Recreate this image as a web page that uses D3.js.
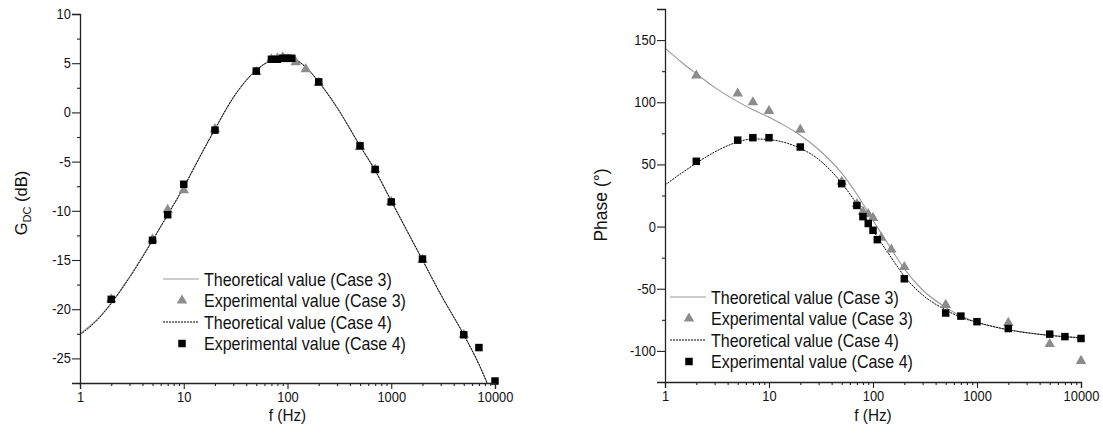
<!DOCTYPE html>
<html>
<head>
<meta charset="utf-8">
<script src="https://cdn.jsdelivr.net/npm/d3@7"></script>
<style>
  body { margin: 0; background: #fff; }
  svg text { font-family: "Liberation Sans", Arial, sans-serif; fill: #111; }
</style>
</head>
<body>
<div id="chart"></div>
<script>
// frequency ticks shared by both panels
var freqTicks = [1, 10, 100, 1000, 10000];
var gainTicks = [-25, -20, -15, -10, -5, 0, 5, 10];
var phaseTicks = [-100, -50, 0, 50, 100, 150];

// gain, theoretical curves
var gainThF = [1, 1.5, 2, 3, 5, 7, 10, 15, 20, 30, 50, 70, 90, 110, 150, 200, 300, 500, 700, 1000, 2000, 3000, 5000, 7000, 8400];
var gainTh3 = [-22.5, -20.9, -19.4, -16.7, -13.0, -10.4, -7.6, -4.1, -1.7, 1.5, 4.3, 5.3, 5.6, 5.5, 4.6, 3.1, 0.5, -3.4, -5.9, -9.0, -15.0, -18.5, -22.6, -25.6, -27.5];
var gainTh4 = [-22.6, -21.0, -19.4, -16.8, -13.0, -10.4, -7.6, -4.1, -1.7, 1.5, 4.3, 5.3, 5.6, 5.5, 4.6, 3.1, 0.5, -3.4, -5.9, -9.0, -15.0, -18.5, -22.6, -25.6, -27.5];

// gain, experimental
var gainExpF3 = [2, 5, 7, 10, 20, 50, 70, 80, 90, 100, 120, 150, 200, 500, 700, 1000, 2000, 5000];
var gainExp3 = [-19.0, -12.9, -9.9, -7.9, -1.7, 4.1, 5.4, 5.5, 5.6, 5.4, 5.1, 4.4, 3.0, -3.5, -5.8, -9.1, -15.0, -22.6];
var gainExpF4 = [2, 5, 7, 10, 20, 50, 70, 80, 90, 100, 110, 200, 500, 700, 1000, 2000, 5000, 7000, 10000];
var gainExp4 = [-19.0, -13.0, -10.4, -7.3, -1.8, 4.2, 5.4, 5.4, 5.5, 5.5, 5.5, 3.1, -3.4, -5.8, -9.1, -14.9, -22.6, -23.9, -27.3];

// phase, theoretical curves
var phaseThF = [1, 1.5, 2, 3, 5, 7, 10, 15, 20, 30, 50, 70, 100, 150, 200, 300, 500, 700, 1000, 2000, 5000, 10000];
var phaseTh3 = [143.5, 131, 123, 112, 100.5, 94, 88, 80, 73.5, 62, 43, 26, 5, -18, -34, -51, -65, -72, -77, -83, -87.5, -89.5];
var phaseTh4 = [33.5, 44, 51, 60, 68, 70.5, 70, 67, 63, 54, 35, 18, -3, -25, -40, -55, -67, -73, -77, -83, -87.5, -89.5];

// phase, experimental
var phaseExpF3 = [2, 5, 7, 10, 20, 50, 70, 80, 90, 100, 120, 150, 200, 500, 2000, 5000, 10000];
var phaseExp3 = [121.5, 107, 100, 93, 78, 36, 18, 12, 10, 7, -9, -18.5, -32.5, -63, -77.5, -94.5, -108];
var phaseExpF4 = [2, 5, 7, 10, 20, 50, 70, 80, 90, 100, 110, 200, 500, 700, 1000, 2000, 5000, 7000, 10000];
var phaseExp4 = [52.5, 69.5, 71.5, 71.5, 64, 34.5, 17, 8, 2.5, -3, -10.5, -42, -69.5, -72, -76.5, -82, -86.5, -88.5, -90];

var legendLabels = ['Theoretical value (Case 3)', 'Experimental value (Case 3)', 'Theoretical value (Case 4)', 'Experimental value (Case 4)'];

var width = 1103, height = 442;

var svg = d3.select('#chart').append('svg')
  .attr('width', width)
  .attr('height', height);

function zip(xs, ys) {
  return xs.map(function(f, i) { return [f, ys[i]]; });
}

// minor ticks 2..9 for each decade
var minorFreq = [];
[1, 10, 100, 1000].forEach(function(dec) {
  for (var k = 2; k <= 9; k++) minorFreq.push(dec * k);
});

function drawPanel(p) {
  var x = d3.scaleLog().domain([1, 10000]).range([p.x0, p.x1]);
  var y = d3.scaleLinear().domain(p.yDomain).range([p.y0, p.y1]);
  var g = svg.append('g');

  var line = d3.line()
    .x(function(d) { return x(d[0]); })
    .y(function(d) { return y(d[1]); })
    .curve(d3.curveMonotoneX);

  // theoretical case 3 (grey solid), then case 4 (black dotted)
  g.append('path')
    .datum(zip(p.thF, p.th3))
    .attr('d', line)
    .attr('fill', 'none')
    .attr('stroke', '#999')
    .attr('stroke-width', 1.1);

  g.append('path')
    .datum(zip(p.thF, p.th4))
    .attr('d', line)
    .attr('fill', 'none')
    .attr('stroke', '#000')
    .attr('stroke-width', 1)
    .attr('stroke-dasharray', '2,1');

  var tri = d3.symbol().type(d3.symbolTriangle).size(48)();
  var sq = d3.symbol().type(d3.symbolSquare).size(56)();

  g.selectAll('.tri')
    .data(zip(p.expF3, p.exp3))
    .enter().append('path')
    .attr('d', tri)
    .attr('transform', function(d) { return 'translate(' + x(d[0]) + ',' + y(d[1]) + ')'; })
    .attr('fill', '#8c8c8c');

  g.selectAll('.sq')
    .data(zip(p.expF4, p.exp4))
    .enter().append('path')
    .attr('d', sq)
    .attr('transform', function(d) { return 'translate(' + x(d[0]) + ',' + y(d[1]) + ')'; })
    .attr('fill', '#000');

  // axes
  var fmt = function(d) { return String(d); };

  g.append('g')
    .attr('transform', 'translate(0,' + p.y0 + ')')
    .call(d3.axisBottom(x).tickValues(freqTicks).tickFormat(fmt).tickSize(6).tickPadding(3));
  g.append('g')
    .attr('transform', 'translate(0,' + p.y0 + ')')
    .call(d3.axisBottom(x).tickValues(minorFreq).tickFormat('').tickSize(3))
    .select('.domain').remove();

  g.append('g')
    .attr('transform', 'translate(' + p.x0 + ',0)')
    .call(d3.axisLeft(y).tickValues(p.yTicks).tickFormat(fmt).tickSize(8).tickPadding(2));
  g.append('g')
    .attr('transform', 'translate(' + p.x0 + ',0)')
    .call(d3.axisLeft(y).tickValues(p.yMinor).tickFormat('').tickSize(3))
    .select('.domain').remove();

  g.selectAll('.domain').attr('stroke', '#222').attr('stroke-width', 1.3);
  g.selectAll('.tick line').attr('stroke', '#222').attr('stroke-width', 1.1);
  // the original lettering is a little condensed
  g.selectAll('.tick text').attr('font-size', 14).attr('fill', '#111')
    .attr('transform', 'scale(0.92,1)')
    .style('font-family', '"Liberation Sans", Arial, sans-serif');

  // axis titles
  g.append('text')
    .attr('transform', 'translate(' + (p.x0 + p.x1) / 2 + ',421) scale(0.9,1)')
    .attr('text-anchor', 'middle')
    .attr('font-size', 17)
    .text('f (Hz)');

  var yt = g.append('text')
    .attr('transform', 'translate(' + p.titleX + ',' + p.titleY + ') rotate(-90)')
    .attr('text-anchor', 'middle')
    .attr('font-size', p.titleSize);
  p.yTitle(yt);

  // legend
  var lg = g.append('g').attr('transform', 'translate(' + p.legX + ',' + p.legY + ')');
  var rowH = 21.5;
  lg.append('line').attr('x1', 0).attr('x2', 36).attr('y1', 0).attr('y2', 0)
    .attr('stroke', '#999').attr('stroke-width', 1.1);
  lg.append('path').attr('d', tri).attr('transform', 'translate(19,' + rowH + ')').attr('fill', '#8c8c8c');
  lg.append('line').attr('x1', 0).attr('x2', 36).attr('y1', rowH * 2).attr('y2', rowH * 2)
    .attr('stroke', '#000').attr('stroke-width', 1).attr('stroke-dasharray', '2,1');
  lg.append('path').attr('d', sq).attr('transform', 'translate(19,' + rowH * 3 + ')').attr('fill', '#000');

  lg.selectAll('.lbl')
    .data(legendLabels)
    .enter().append('text')
    .attr('transform', function(d, i) { return 'translate(41,' + (i * rowH + 6.5) + ') scale(0.915,1)'; })
    .attr('font-size', 17.5)
    .text(function(d) { return d; });
}

drawPanel({
  x0: 80, x1: 495, y0: 383, y1: 14,
  yDomain: [-27.5, 10], yTicks: gainTicks,
  yMinor: [-27.5, -22.5, -17.5, -12.5, -7.5, -2.5, 2.5, 7.5],
  thF: gainThF, th3: gainTh3, th4: gainTh4,
  expF3: gainExpF3, exp3: gainExp3, expF4: gainExpF4, exp4: gainExp4,
  titleX: 27, titleY: 203, titleSize: 16.5,
  yTitle: function(t) {
    t.append('tspan').text('G');
    t.append('tspan').attr('font-size', 11).attr('dy', 4).text('DC');
    t.append('tspan').attr('dy', -4).text(' (dB)');
  },
  legX: 163, legY: 279
});

drawPanel({
  x0: 665, x1: 1081, y0: 382, y1: 9,
  yDomain: [-125, 175], yTicks: phaseTicks,
  yMinor: [-75, -25, 25, 75, 125],
  thF: phaseThF, th3: phaseTh3, th4: phaseTh4,
  expF3: phaseExpF3, exp3: phaseExp3, expF4: phaseExpF4, exp4: phaseExp4,
  titleX: 607, titleY: 205, titleSize: 17.5,
  yTitle: function(t) { t.text('Phase (°)'); },
  legX: 670, legY: 297
});
</script>
</body>
</html>
